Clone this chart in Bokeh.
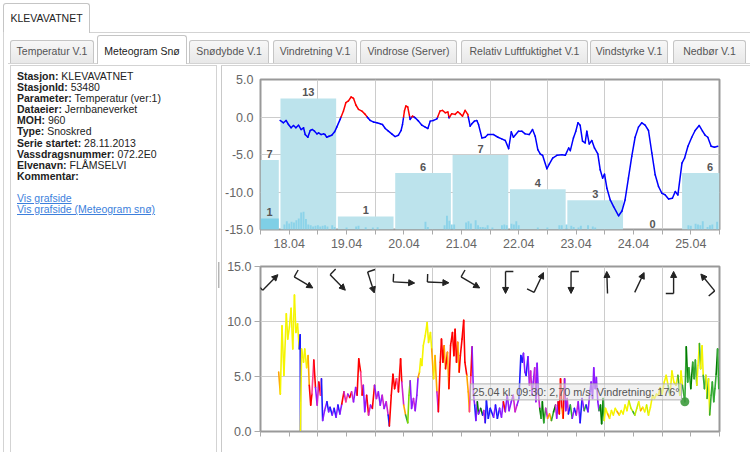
import math
from bokeh.plotting import figure
from bokeh.models import (Range1d, FixedTicker, PrintfTickFormatter, ColumnDataSource,
                          Div, Label, Arrow, NormalHead)
from bokeh.layouts import column, row
from bokeh.embed import file_html
from bokeh.resources import INLINE
from bokeh.core.properties import value

FONT = "Liberation Sans"

# ---------------- page texts ----------------
station_tab = "KLEVAVATNET"
tab_names = ["Temperatur V.1", "Meteogram Snø", "Snødybde V.1", "Vindretning V.1",
             "Vindrose (Server)", "Relativ Luftfuktighet V.1", "Vindstyrke V.1", "Nedbør V.1"]
active_tab = 1
info_keys = ["Stasjon:", "StasjonId:", "Parameter:", "Dataeier:", "MOH:", "Type:",
             "Serie startet:", "Vassdragsnummer:", "Elvenavn:", "Kommentar:"]
info_vals = ["KLEVAVATNET", "53480", "Temperatur (ver:1)", "Jernbaneverket", "960", "Snoskred",
             "28.11.2013", "072.2E0", "FLÅMSELVI", ""]
links = ["Vis grafside", "Vis grafside (Meteogram snø)"]

# ---------------- chart data (hours since 18.04 00:00) ----------------
day_labels = ["18.04", "19.04", "20.04", "21.04", "22.04", "23.04", "24.04", "25.04"]

temp_hours = [8.2, 9.6, 10.7, 11.7, 12.8, 13.8, 14.8, 15.9, 17.0, 18.0,
              18.7, 19.8, 20.8, 21.7, 22.6, 23.6, 24.3, 25.4, 26.4, 27.0,
              27.7, 28.7, 29.8, 31.0, 31.9, 33.3, 34.7, 35.7, 36.8, 37.9,
              38.9, 39.9, 41.0, 42.4, 43.8, 44.9, 45.9, 47.3, 48.7, 50.1,
              51.0, 52.2, 53.5, 54.9, 56.3, 57.7, 58.8, 59.4, 60.2, 60.8,
              61.6, 62.6, 63.6, 64.7, 66.1, 67.5, 68.9, 70.0, 71.0, 72.4,
              73.8, 75.1, 76.1, 77.3, 78.4, 78.9, 80.0, 81.4, 82.5, 83.5,
              84.5, 85.6, 86.7, 87.7, 88.4, 89.5, 90.5, 91.2, 92.6, 94.0,
              95.1, 97.5, 99.3, 100.9, 102.4, 103.8, 104.9, 105.8, 107.9, 109.3,
              110.7, 112.4, 113.8, 114.9, 116.0, 117.0, 118.0, 119.8, 120.8, 122.2,
              124.0, 126.1, 127.5, 128.9, 129.6, 130.9, 131.9, 132.8, 133.7, 134.7,
              135.8, 136.5, 137.5, 138.6, 139.7, 141.1, 142.1, 143.1, 143.9, 144.9,
              146.3, 147.7, 149.8, 151.2, 152.5, 153.9, 155.3, 156.7, 158.1, 159.5,
              160.9, 162.3, 163.7, 165.1, 166.5, 167.9, 169.3, 170.7, 172.3, 173.5,
              174.6, 176.3, 177.4, 178.8, 180.4, 181.8, 183.5, 184.9, 186.0, 187.1,
              188.5, 189.9, 191.3]
temp_values = [-0.46, -0.77, -0.46, -1.0, -1.44, -1.13, -1.44, -1.09, -1.67, -1.44,
               -2.34, -2.70, -1.80, -1.67, -1.89, -2.25, -2.11, -2.34, -2.25, -2.34,
               -2.70, -2.56, -2.43, -1.98, -1.35, -0.32, 0.79, 1.91, 2.14, 2.67,
               2.49, 1.60, 1.02, 0.79, 0.35, -0.10, -0.46, -0.68, -0.77, -0.91,
               -1.0, -1.53, -1.89, -2.25, -2.61, -2.43, -1.80, -1.0, 0.79, 1.47,
               1.33, -0.32, 0.12, -0.10, -0.55, -1.09, -1.35, -1.53, -0.55, -0.46,
               -0.24, 0.79, 0.88, 0.57, 0.66, -0.10, 0.44, 0.35, 0.70, 0.44,
               0.12, 0.88, 0.35, -1.22, -0.91, -0.55, -0.46, -1.0, -2.79, -2.70,
               -2.34, -2.34, -2.70, -2.92, -3.14, -4.22, -1.98, -2.70, -1.89, -1.89,
               -2.25, -2.34, -1.67, -2.56, -4.35, -4.93, -5.11, -6.90, -6.28, -5.47,
               -5.11, -5.02, -5.11, -4.13, -4.49, -2.79, -1.89, -0.77, -1.09, -3.23,
               -3.46, -1.89, -3.59, -3.14, -4.13, -4.93, -7.04, -8.15, -7.62, -9.50,
               -11.06, -11.96, -13.17, -12.54, -11.06, -8.15, -5.25, -2.70, -1.35, -0.77,
               -1.09, -1.80, -4.80, -7.71, -9.27, -10.17, -10.39, -10.93, -10.84, -9.94,
               -10.39, -6.14, -5.47, -3.90, -2.70, -1.80, -1.13, -1.89, -2.43, -2.70,
               -3.90, -4.04, -3.90]

# daily snow sums, periods start 08:00
snow_period_start = [-16, 8, 32, 56, 80, 104, 128, 152, 176]
snow_values = [6.9, 13.0, 1.3, 5.6, 7.4, 4.0, 2.9, 0.0, 5.6]
snow2_period_start = [-16]
snow2_values = [1.1]

hourly_hours = [10, 11, 12, 13, 14, 15, 16, 17, 18, 19, 20, 21, 22, 23, 24, 25, 26, 27, 28, 30, 31,
                36, 40, 41, 44, 47, 49, 69, 70, 77, 78, 79, 80, 81, 86, 87, 88, 90, 91, 92, 93, 94, 95,
                97, 101, 102, 103, 105, 106, 107, 108, 116, 120, 125, 126, 128, 130, 131, 133, 134,
                137, 139, 140, 179, 180, 182, 183, 184, 185, 187, 188, 189, 191]
hourly_values = [0.5, 0.83, 0.6, 0.76, 0.7, 0.93, 1.09, 1.69, 1.75, 1.03, 0.5, 0.43, 0.3, 0.36, 0.43,
                 0.3, 0.36, 0.43, 0.3, 0.43, 0.26,
                 0.2, 0.3, 0.36, 0.23, 0.2, 0.23, 0.76, 0.26, 0.43, 1.36, 0.86, 0.5, 0.5, 0.7, 0.83,
                 0.6, 0.93, 0.43, 0.26, 0.26, 0.2, 0.43,
                 0.2, 0.43, 0.5, 0.43, 0.56, 0.5, 0.83, 0.43, 0.2, 0.2, 0.43, 0.43, 0.5, 0.36, 0.26,
                 0.2, 0.36, 0.43, 0.3, 0.2, 0.43, 0.36, 0.56, 0.5, 0.43, 0.83, 0.26, 0.43, 0.5, 0.76]

wind_hours = [7.6, 8.3, 9.0, 9.8, 10.8, 11.4, 12.1, 12.8, 13.5, 14.2,
              14.8, 15.5, 16.2, 16.6, 16.7, 17.2, 18.0, 18.5, 19.3, 19.9,
              20.4, 21.0, 21.5, 22.3, 23.0, 23.7, 24.4, 25.1, 25.5, 26.0,
              26.8, 27.8, 28.5, 29.1, 30.0, 30.8, 31.6, 32.4, 33.2, 34.0,
              34.9, 35.7, 36.5, 37.3, 38.1, 38.9, 39.8, 40.4, 41.1, 41.9,
              42.5, 43.0, 43.6, 44.4, 45.2, 46.0, 46.8, 47.7, 48.5, 49.3,
              50.1, 50.9, 51.7, 52.6, 53.4, 53.9, 54.7, 55.4, 56.1, 56.9,
              57.7, 58.6, 59.1, 59.9, 60.7, 61.6, 62.1, 62.6, 63.2, 64.0,
              64.7, 65.4, 65.9, 66.5, 67.0, 67.5, 68.1, 68.9, 69.7, 70.3,
              71.1, 71.6, 72.4, 73.0, 73.8, 74.4, 75.2, 75.7, 76.3, 76.8,
              77.4, 78.2, 78.8, 79.5, 80.3, 80.9, 81.4, 82.0, 82.5, 83.1,
              83.6, 84.3, 85.0, 85.5, 86.3, 86.9, 87.4, 88.0, 88.5, 89.1,
              89.6, 90.1, 90.7, 91.2, 92.1, 92.9, 93.4, 94.0, 94.5, 95.3,
              96.1,
              97.5, 98.3, 99.1, 100.0, 100.8, 101.6, 102.4, 103.2, 104.0, 104.9,
              105.7, 106.5, 107.3, 108.1, 108.9, 109.5, 110.0, 110.6, 111.1, 111.9,
              112.5, 113.0, 113.6, 114.1, 114.7, 115.2, 115.7, 116.3, 116.8, 117.4,
              117.9, 118.5, 119.3, 120.1, 120.9, 121.7, 122.6, 123.4, 123.9, 124.5,
              125.0, 125.5, 126.1, 126.6, 127.2, 127.7, 128.3, 128.8, 129.6, 130.4,
              131.3, 132.1, 132.9, 133.7, 134.5, 135.4, 136.2, 137.0, 137.8, 138.3,
              138.9, 139.4, 140.0, 140.5, 141.1, 141.6, 142.2, 142.7, 143.3, 143.8,
              144.3, 145.2, 146.0, 146.8, 147.6, 148.4, 149.2, 150.1, 150.9, 151.7,
              152.5, 153.3, 154.1, 155.0, 155.8, 156.6, 157.4, 158.2, 159.0, 159.9,
              160.7, 161.5, 162.3, 163.1, 164.0, 164.8, 165.6, 166.4, 167.2, 168.0,
              168.9, 169.7, 170.5, 171.3, 172.1, 172.9, 173.8, 174.6, 175.4, 175.9,
              176.5, 177.5, 178.1, 178.7, 179.2, 180.0, 180.8, 181.4, 181.9, 182.5,
              183.0, 183.6, 184.1, 184.7, 185.2, 185.7, 186.3, 186.8, 187.4, 187.9,
              188.5, 189.0, 189.6, 190.1, 190.6, 191.2, 191.7]
wind_speed = [5.4, 3.4, 9.6, 5.1, 10.7, 8.4, 9.5, 11.2, 7.5, 12.4,
              9.0, 9.8, 7.5, 8.8, 0.1, 7.5, 6.3, 7.5, 5.8, 6.9,
              4.2, 2.4, 3.4, 6.5, 4.0, 2.4, 4.5, 3.3, 4.8, 1.0,
              1.9, 2.7, 1.8, 2.2, 1.5, 2.1, 1.3, 2.4, 1.6, 2.5,
              3.6, 2.7, 3.4, 3.1, 3.6, 2.7, 4.0, 3.3, 6.6, 5.4,
              3.3, 4.2, 1.8, 3.3, 1.5, 2.4, 2.1, 4.2, 3.0, 3.6,
              2.4, 3.3, 2.1, 2.7, 1.5, 0.5, 3.3, 5.2, 3.9, 4.8,
              3.6, 6.6, 4.5, 2.4, 1.5, 0.8, 3.3, 4.6, 2.1, 3.0,
              1.9, 3.3, 4.9, 5.4, 6.6, 6.0, 7.8, 8.7, 9.9, 8.1,
              9.0, 7.5, 4.8, 6.9, 3.6, 1.8, 6.3, 8.4, 6.3, 7.8,
              5.7, 7.2, 3.9, 7.8, 9.0, 6.9, 9.3, 6.3, 8.1, 5.4,
              6.9, 8.4, 10.1, 6.3, 5.1, 3.6, 1.8, 5.1, 7.7, 3.3,
              2.4, 1.0, 2.7, 1.6, 2.1, 1.5, 1.9, 0.8, 2.8, 1.2,
              2.1,
              1.3, 2.4, 1.2, 2.1, 1.3, 2.7, 1.8, 3.3, 1.9, 2.7,
              3.3, 1.8, 2.4, 3.0, 6.9, 6.3, 7.1, 5.4, 5.1, 6.8,
              4.2, 5.5, 3.3, 4.5, 5.8, 2.7, 6.2, 3.3, 2.1, 1.2,
              2.7, 0.8, 2.1, 1.2, 1.6, 1.0, 1.8, 2.4, 1.2, 2.7,
              1.6, 4.8, 2.1, 1.2, 4.8, 1.9, 3.0, 1.6, 2.4, 1.2,
              2.1, 1.5, 2.7, 0.8, 3.0, 1.9, 2.4, 1.8, 3.6, 4.5,
              3.0, 5.8, 3.9, 4.9, 2.7, 1.9, 2.4, 0.7, 3.0, 1.0,
              2.1, 1.6, 1.2, 1.9, 1.5, 2.1, 1.8, 1.5, 1.9, 1.6,
              2.4, 1.9, 2.8, 2.1, 1.8, 1.5, 2.1, 2.7, 1.9, 2.2,
              1.8, 2.4, 1.5, 2.2, 3.3, 3.0, 3.4, 3.3, 4.0, 3.4,
              4.5, 5.1, 4.2, 3.3, 5.5, 4.5, 4.2, 5.1, 3.3, 5.5,
              4.2, 2.7, 7.7, 4.5, 5.8, 3.9, 6.3, 4.8, 6.5, 4.2,
              6.0, 8.0, 5.7, 7.8, 5.1, 3.9, 5.1, 3.0, 4.8, 1.5,
              3.3, 4.5, 2.7, 3.9, 5.2, 7.5, 3.9]
wind_dir = [248, 248, 228, 228, 228, 228, 228, 228, 228, 228,
            228, 228, 228, 350, 350, 228, 228, 228, 228, 228,
            248, 270, 270, 290, 270, 330, 312, 270, 290, 350,
            330, 330, 350, 330, 350, 330, 350, 330, 350, 330,
            270, 312, 290, 330, 270, 312, 340, 330, 270, 270,
            290, 270, 330, 330, 270, 312, 330, 270, 330, 312,
            330, 330, 312, 330, 312, 350, 270, 270, 270, 270,
            290, 270, 270, 312, 248, 176, 120, 120, 330, 330,
            312, 330, 330, 248, 228, 228, 228, 228, 228, 228,
            228, 228, 240, 228, 248, 312, 270, 270, 270, 270,
            248, 270, 248, 270, 270, 270, 270, 270, 270, 248,
            270, 270, 270, 270, 270, 248, 248, 290, 270, 330,
            330, 350, 330, 160, 330, 160, 350, 312, 350, 350,
            350,
            350, 330, 350, 350, 330, 330, 270, 330, 330, 330,
            330, 312, 312, 330, 350, 350, 350, 330, 330, 350,
            330, 312, 312, 330, 330, 312, 330, 330, 312, 160,
            176, 160, 176, 312, 248, 248, 176, 160, 312, 330,
            270, 270, 270, 248, 270, 330, 330, 312, 350, 176,
            330, 350, 312, 330, 350, 330, 176, 350, 330, 330,
            330, 330, 330, 330, 330, 330, 176, 160, 160, 176,
            222, 222, 240, 222, 222, 222, 222, 240, 222, 222,
            222, 222, 222, 205, 205, 176, 205, 205, 222, 240,
            222, 222, 205, 222, 222, 222, 222, 222, 222, 222,
            222, 222, 222, 176, 222, 222, 222, 222, 176, 222,
            222, 176, 176, 160, 176, 176, 160, 176, 176, 176,
            222, 222, 176, 222, 222, 176, 176, 222, 176, 222,
            176, 176, 176, 176, 176, 160, 176]

arrow_hours = [4.1, 18.0, 32.3, 46.2, 60.0, 74.3, 87.8, 102.5, 116.4, 129.9, 145.0, 158.5, 172.8, 187.1]
arrow_dir = [225, 300, 315, 342, 273, 272, 300, 0, 206, 0, 178, 206, 180, 140]
arrow_barb = [1, 1, 1, 1, 1, 1, 1, 1, 1, 1, 0, 0, 1, 1]

tooltip_hour = 177.5
tooltip_speed = 2.70
tooltip_dir = 176
tooltip_text = "25.04 kl. 09:30: 2,70 m/s. Vindretning: 176°"

# ---------------- styles ----------------
GRID = "#cccccc"
FRAME = "#999999"
LABEL = "#666666"
COLD, WARM = "#0000ff", "#ff0000"
DAILY, DAILY2, HOURLY = "#bce3ec", "#7fcfe6", "#8cd3e9"
ARROW = "#222222"
dir_edges = [20, 100, 150, 170, 195, 215, 238, 258, 285, 305, 322, 342, 361]
dir_colors = ["#1a1aff", "#1a1aff", "#80d800", "#007a00", "#33aa33", "#c8ee00", "#f5f500",
              "#ffa500", "#ff0000", "#ff3d8b", "#cc22cc", "#8c1aff", "#1a1aff"]


def dir_color(d):
    for e, c in zip(dir_edges, dir_colors):
        if d % 360 < e:
            return c
    return dir_colors[-1]


X0, X1 = 0, 192
noons = [12 + 24 * i for i in range(8)]
midnights = [24 * i for i in range(9)]


def style_axes(p, yticks, label_size="12.5px"):
    for ax in (p.xaxis[0], p.yaxis[0]):
        ax.major_label_text_font = FONT
        ax.major_label_text_font_size = label_size
        ax.major_label_text_color = LABEL
        ax.axis_line_color = None
        ax.axis_label_standoff = 0
        ax.axis_label = None
    p.yaxis.ticker = FixedTicker(ticks=yticks)
    p.yaxis.formatter = PrintfTickFormatter(format="%.1f")
    p.yaxis.minor_tick_line_color = None
    p.yaxis.minor_tick_out = 0
    p.yaxis.minor_tick_in = 0
    p.xaxis.ticker = FixedTicker(ticks=noons, minor_ticks=midnights)
    p.xaxis.major_tick_out = 5
    p.xaxis.major_tick_in = 0
    p.xaxis.minor_tick_out = 5
    p.xaxis.minor_tick_in = 0
    p.xaxis.major_tick_line_color = "#aaaaaa"
    p.xaxis.minor_tick_line_color = "#aaaaaa"
    p.xgrid.ticker = FixedTicker(ticks=midnights[1:-1])
    p.xgrid.grid_line_color = GRID
    p.ygrid.grid_line_color = GRID
    p.outline_line_color = FRAME
    p.outline_line_width = 2


# ---------------- chart 1: temperature + snow ----------------
p1 = figure(width=528, height=192, min_border_left=38, min_border_right=31,
            min_border_top=13, min_border_bottom=29, x_range=Range1d(X0, X1),
            y_range=Range1d(-15, 5), output_backend="svg", toolbar_location=None,
            title=None, background_fill_color="white", border_fill_color="white")
p1.extra_y_ranges = {"snow": Range1d(0, 14.88)}
style_axes(p1, [-15, -10, -5, 0, 5])
p1.yaxis.major_tick_line_color = None
p1.yaxis.major_tick_out = 0
p1.yaxis.major_tick_in = 0
p1.yaxis.major_label_standoff = 7
p1.xaxis.major_label_standoff = 4
p1.xaxis.major_label_overrides = {n: lab for n, lab in zip(noons, day_labels)}
p1.ygrid.ticker = FixedTicker(ticks=[-10, -5, 0])

BAR_W = 23.3
snow_x = [s + 12 for s in snow_period_start]
snow2_x = [s + 12 for s in snow2_period_start]
p1.vbar(x=snow_x, top=snow_values, bottom=0, width=BAR_W, y_range_name="snow",
        fill_color=DAILY, line_color=None)
p1.vbar(x=snow2_x, top=snow2_values, bottom=0, width=BAR_W, y_range_name="snow",
        fill_color=DAILY2, line_color=None)
p1.vbar(x=hourly_hours, top=hourly_values, bottom=0, width=0.8, y_range_name="snow",
        fill_color=HOURLY, line_color=None)

# temperature line split at 0 (red above, blue below)
sx0, sy0, sx1, sy1, sc = [], [], [], [], []
for i in range(len(temp_hours) - 1):
    xa, ya, xb, yb = temp_hours[i], temp_values[i], temp_hours[i + 1], temp_values[i + 1]
    if (ya > 0) != (yb > 0) and ya != yb:
        xm = xa + (0 - ya) * (xb - xa) / (yb - ya)
        parts = [(xa, ya, xm, 0.0), (xm, 0.0, xb, yb)]
    else:
        parts = [(xa, ya, xb, yb)]
    for a, b, c, d in parts:
        sx0.append(a); sy0.append(b); sx1.append(c); sy1.append(d)
        sc.append(WARM if (b + d) / 2 > 0 else COLD)
p1.segment(x0=sx0, y0=sy0, x1=sx1, y1=sy1, line_color=sc, line_width=1.5, line_cap="round")


def label_x(c):
    if X0 <= c <= X1:
        return c
    lo, hi = max(c - BAR_W / 2, X0), min(c + BAR_W / 2, X1)
    return (lo + hi) / 2


lab_x = [label_x(c) for c in snow_x + snow2_x]
lab_y = snow_values + snow2_values
lab_t = [f"{v:.0f}" for v in lab_y]
p1.text(x=lab_x, y=lab_y, text=lab_t, y_range_name="snow", text_align="center",
        text_baseline="bottom", y_offset=-2, text_font=value(FONT), text_font_size="11px",
        text_font_style="bold", text_color="#555555")

# ---------------- chart 2: wind ----------------
p2 = figure(width=528, height=194, min_border_left=35, min_border_right=23,
            min_border_top=8, min_border_bottom=21, x_range=Range1d(X0, X1),
            y_range=Range1d(0, 15), output_backend="svg", toolbar_location=None,
            title=None, background_fill_color="white", border_fill_color="white")
style_axes(p2, [0, 5, 10, 15])
p2.yaxis.major_tick_out = 6
p2.yaxis.major_tick_in = 0
p2.yaxis.major_tick_line_color = "#aaaaaa"
p2.yaxis.major_label_standoff = 3
p2.xaxis.major_label_overrides = {n: "" for n in noons}
p2.xaxis.major_label_text_font_size = "1px"
p2.xaxis.major_label_standoff = 0
p2.ygrid.ticker = FixedTicker(ticks=[5, 10])

wx0, wy0, wx1, wy1, wc = [], [], [], [], []
for i in range(len(wind_hours) - 1):
    wx0.append(wind_hours[i]); wy0.append(wind_speed[i])
    wx1.append(wind_hours[i + 1]); wy1.append(wind_speed[i + 1])
    wc.append(dir_color(wind_dir[i + 1]))
p2.segment(x0=wx0, y0=wy0, x1=wx1, y1=wy1, line_color=wc, line_width=1.6, line_cap="round")

# wind arrows (pointing where the wind goes)
PXH = 470 / (X1 - X0)
PXY = 165 / 15
SHAFT, BARB, ARROW_Y = 22, 8, 13.55
axs, ays, axe, aye = [], [], [], []
bx0, by0, bx1, by1 = [], [], [], []
for h, d, b in zip(arrow_hours, arrow_dir, arrow_barb):
    a = math.radians(270 - d)
    dx = SHAFT / 2 * math.cos(a) / PXH
    dy = SHAFT / 2 * math.sin(a) / PXY
    axs.append(h - dx); ays.append(ARROW_Y - dy)
    axe.append(h + dx); aye.append(ARROW_Y + dy)
    if b:
        ab = a + math.pi / 2
        bx0.append(h - dx); by0.append(ARROW_Y - dy)
        bx1.append(h - dx + BARB * math.cos(ab) / PXH)
        by1.append(ARROW_Y - dy + BARB * math.sin(ab) / PXY)
arrow_src = ColumnDataSource(dict(xs=axs, ys=ays, xe=axe, ye=aye))
p2.add_layout(Arrow(end=NormalHead(size=6, fill_color=ARROW, line_color=ARROW, line_width=1),
                    source=arrow_src, x_start="xs", y_start="ys", x_end="xe", y_end="ye",
                    line_color=ARROW, line_width=1.4))
p2.segment(x0=bx0, y0=by0, x1=bx1, y1=by1, line_color=ARROW, line_width=1.4)

# hovered point + tooltip
p2.scatter(x=[tooltip_hour], y=[tooltip_speed], size=9, fill_color="#3d9b3d",
           line_color=None, fill_alpha=0.9)
p2.add_layout(Label(x=176.1, y=3.6, text=tooltip_text, text_align="right",
                    text_baseline="middle", text_font=FONT, text_font_size="10.8px",
                    text_color="#555555", background_fill_color="#e6e6e6",
                    background_fill_alpha=0.55, border_line_color="#aaaaaa",
                    border_line_alpha=0.9, padding=2))

# ---------------- HTML chrome ----------------
def box(l, t, w, h, style, inner=""):
    return (f'<div style="position:absolute;left:{l}px;top:{t}px;width:{w}px;height:{h}px;'
            f'box-sizing:border-box;{style}">{inner}</div>')


TAB_BORDER = "#c5c5c5"
LINE = "#d3d3d3"
tab_left = [10, 97, 189, 273, 360, 461, 590, 673]
tab_width = [84, 90, 80, 84, 97, 127, 78, 73]

hdr = [f'<div style="position:relative;width:750px;height:66px;overflow:hidden;'
       f'font-family:\'{FONT}\',Arial,sans-serif;font-size:10.5px;">']
hdr.append(box(3, 3, 87, 30, f"background:#fff;border:1px solid {TAB_BORDER};border-bottom:none;"
               "border-radius:3px 3px 0 0;color:#222;text-align:center;line-height:28px;",
               station_tab))
hdr.append(box(90, 32, 660, 1, f"background:{LINE};"))
hdr.append(box(3, 32, 1, 34, f"background:{LINE};"))
hdr.append(box(8, 63, 742, 1, f"background:{LINE};"))
for i, (name, l, w) in enumerate(zip(tab_names, tab_left, tab_width)):
    if i == active_tab:
        st = (f"background:#fff;border:1px solid {TAB_BORDER};border-bottom:none;"
              "border-radius:3px 3px 0 0;color:#212121;text-align:center;"
              "line-height:20px;padding-top:5px;white-space:nowrap;")
        hdr.append(box(l, 35, w, 29, st, name))
    else:
        st = (f"background:linear-gradient(#f7f7f7,#e8e8e8);border:1px solid {TAB_BORDER};"
              "border-bottom:none;border-radius:3px 3px 0 0;color:#555;text-align:center;"
              "line-height:20px;white-space:nowrap;")
        hdr.append(box(l, 40, w, 23, st, name))
hdr.append(box(10, 65, 207, 1, f"background:{LINE};"))
hdr.append(box(221, 65, 529, 1, f"background:{LINE};"))
hdr.append("</div>")
header = Div(text="".join(hdr), width=750, height=66, margin=0)

lines = [f"<b>{k}</b> {v}" for k, v in zip(info_keys, info_vals)]
lines.append("&nbsp;")
lines += [f'<span style="color:#3d7fdc;text-decoration:underline;">{t}</span>' for t in links]
info_html = "<br>".join(lines)

LH = 386
lp = [f'<div style="position:relative;width:222px;height:{LH}px;overflow:hidden;'
      f'font-family:\'{FONT}\',Arial,sans-serif;">']
lp.append(box(3, 0, 1, LH, f"background:{LINE};"))
lp.append(box(10, 0, 1, LH, f"background:{LINE};"))
lp.append(box(216, 0, 1, LH, f"background:{LINE};"))
lp.append(box(221, 0, 1, LH, "background:#c9c9c9;"))
lp.append(box(218, 196, 1, 26, "background:#b5b5b5;"))
lp.append(box(219, 196, 1, 26, "background:#dddddd;"))
lp.append(f'<div style="position:absolute;left:17px;top:5px;font-size:10.5px;line-height:11.1px;'
          f'color:#222;white-space:nowrap;">{info_html}</div>')
lp.append("</div>")
left = Div(text="".join(lp), width=222, height=LH, margin=0)

layout = column(header, row(left, column(p1, p2, spacing=0), spacing=0), spacing=0)

with open("out.html", "w", encoding="utf-8") as f:
    f.write(file_html(layout, INLINE))
